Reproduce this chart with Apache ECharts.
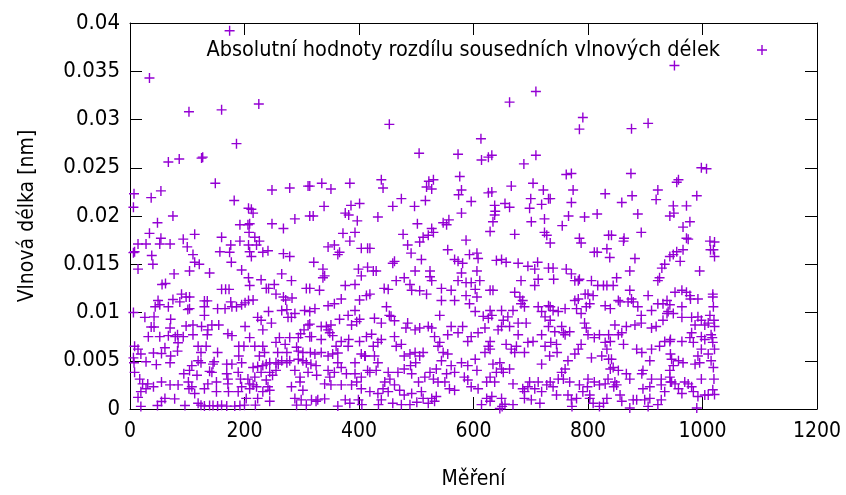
<!DOCTYPE html>
<html>
<head>
<meta charset="utf-8">
<script src="https://cdn.jsdelivr.net/npm/echarts@6/dist/echarts.min.js"></script>
<style>
  html, body { margin: 0; padding: 0; background: #fff; overflow: hidden; }
  #chart { width: 846px; height: 495px; }
</style>
</head>
<body>
<div id="chart"></div>
<script>
// Measurement index (x) and absolute difference of neighbouring wavelengths in nm (y)
const mereni = [
  34,103,67,86,7,37,54,6,75,48,34,54,93,14,28,52,70,100,6,8,38,14,40,77,56,62,104,75,90,98,49,87,52,67,44,101,6,26,42,71,37,42,70,98,83,79,32,52,67,93,84,61,8,14,41,19,55,83,71,6,7,28,46,70,94,8,17,22,31,28,41,55,70,84,102,103,19,14,19,48,61,78,55,96,
  174,160,186,125,127,149,182,207,192,206,208,113,160,192,176,207,157,174,110,113,121,177,195,207,139,160,167,173,104,130,135,176,104,130,153,166,186,195,201,207,130,178,110,125,143,155,136,110,135,171,178,201,119,133,190,199,153,190,124,119,124,108,147,145,169,178,195,139,143,104,117,169,171,189,193,206,151,171,108,113,130,136,195,151,172,189,124,130,139,145,153,160,169,183,192,200,119,203,209,
  225,248,279,311,212,215,209,248,268,288,314,218,221,226,232,241,212,209,268,279,209,229,238,242,252,265,282,215,255,268,272,283,308,223,229,232,242,247,265,274,282,288,276,305,311,304,298,294,209,261,279,314,218,232,235,255,258,271,274,291,294,302,226,238,244,255,259,265,274,279,294,302,308,215,223,232,218,229,244,249,255,288,297,311,209,215,221,238,241,232,244,282,297,302,223,219,244,288,291,299,308,
  314,335,351,384,339,320,376,382,386,401,397,372,393,384,346,357,363,366,404,415,321,337,337,340,399,404,415,376,393,331,314,369,401,413,323,314,346,357,366,381,393,387,396,401,314,334,343,351,346,349,354,317,334,360,363,381,382,369,401,413,410,315,323,334,346,354,363,393,404,411,316,325,346,357,369,326,349,378,393,404,415,340,351,369,387,396,404,317,325,328,340,363,376,384,399,405,
  453,505,439,442,518,522,474,459,497,516,433,502,477,485,491,506,512,521,419,425,430,459,462,498,509,524,465,479,444,451,489,492,506,518,419,448,453,456,462,427,439,485,482,498,506,521,422,425,433,439,427,433,474,465,462,479,489,498,506,512,499,490,419,430,445,451,454,468,479,492,504,515,419,433,442,451,462,471,479,492,509,434,439,459,474,489,501,512,521,
  613,573,614,626,530,527,576,579,574,596,626,557,579,547,553,527,530,587,629,555,567,573,593,606,608,581,524,527,544,561,579,573,587,596,606,611,603,544,567,587,606,541,593,603,617,629,527,532,541,555,561,573,581,596,590,608,620,626,538,547,544,555,579,590,603,620,626,535,524,553,561,567,584,606,530,538,550,558,567,590,596,608,623,527,535,532,614,623,
  663,709,632,688,709,632,666,704,722,731,655,663,700,698,719,637,638,634,637,701,724,672,724,728,640,649,657,678,695,707,712,731,683,707,713,634,672,681,683,686,731,649,669,689,713,719,725,629,632,652,660,643,649,663,678,692,678,695,704,719,731,725,629,629,657,666,675,672,689,719,634,646,649,640,652,663,629,637,669,686,689,695,698,707,713,719,728,632,629,649,655,650,669,689,701,716,646,
  791,785,762,771,774,771,830,734,766,755,794,816,785,788,836,734,811,816,833,739,740,762,771,777,783,785,806,817,827,833,795,800,809,734,739,748,760,777,783,780,788,797,803,830,734,742,754,757,760,768,794,797,800,811,820,836,830,735,745,746,733,783,788,777,806,824,833,836,765,760,754,748,757,734,768,739,800,811,820,791,803,830,835,785,799,745,765,771,780,772,803,809,820,827,833,
  905,876,875,859,877,919,922,887,943,841,863,862,893,838,882,873,850,929,934,922,925,943,844,873,876,853,856,870,879,887,893,905,911,922,931,938,940,839,867,882,893,911,919,931,938,847,853,859,862,839,885,894,911,925,934,944,841,844,853,867,873,896,894,908,839,847,850,845,896,908,928,934,944,911,928,856,859,879,885,899,908,905,922,928,873,
  951,998,1007,958,955,990,972,949,950,966,978,972,975,1013,1021,1014,949,955,966,961,995,952,964,972,978,979,992,1018,943,964,1019,949,964,981,992,998,1004,1010,1013,1021,987,981,978,984,998,1004,1015,1018,943,964,944,946,949,958,966,992,998,1010,1015,995,987,943,943,946,952,958,964,969,975,981,984,998,1004,1010,992,990,
  1019,1021,1018,1020,1017,1021,1019,1020,1018,1021
];
const rozdil = [
  0.0343,0.0308,0.0256,0.0259,0.0223,0.0219,0.0226,0.0209,0.0200,0.0193,0.0182,0.0177,0.0176,0.0171,0.0171,0.0171,0.0171,0.0168,0.0162,0.0163,0.0159,0.0145,0.0150,0.0140,0.0129,0.0130,0.0143,0.01135,0.0119,0.0116,0.01125,0.0111,0.0108,0.0106,0.0106,0.0103,0.0100,0.0095,0.00955,0.0093,0.0085,0.0085,0.0084,0.0086,0.0077,0.0075,0.0075,0.0075,0.0076,0.0075,0.00686,0.00635,0.0065,0.0062,0.0058,0.0057,0.00575,0.0060,0.0055,0.0053,0.0048,0.0049,0.0046,0.0048,0.00365,0.0038,0.0031,0.0026,0.0026,0.0021,0.0023,0.0028,0.0025,0.0025,0.0028,0.0021,0.0018,0.0012,0.00027,0.00037,0.0011,0.00105,0.00078,0.00037,
  0.0392,0.0310,0.0275,0.0260,0.0261,0.0234,0.0216,0.0208,0.0191,0.0191,0.0183,0.0181,0.0178,0.0174,0.0170,0.0170,0.0163,0.01625,0.0160,0.0152,0.0150,0.0152,0.0144,0.0136,0.0141,0.0124,0.0124,0.0124,0.0116,0.0112,0.0112,0.0111,0.0104,0.0106,0.0104,0.0104,0.0106,0.0108,0.0110,0.01125,0.0097,0.0106,0.0087,0.00855,0.0087,0.0087,0.0082,0.0077,0.0077,0.0078,0.0076,0.00855,0.0065,0.0065,0.0065,0.0065,0.00585,0.0055,0.00585,0.0050,0.0048,0.0045,0.0049,0.00465,0.00465,0.00465,0.0048,0.0039,0.0038,0.0040,0.0035,0.00365,0.0031,0.0038,0.0031,0.0031,0.0028,0.0026,0.0023,0.0016,0.0021,0.0026,0.0023,0.0018,0.0018,0.0018,0.0004,0.0003,0.00035,0.00035,0.0003,0.0004,0.0003,0.0003,0.00035,0.0004,0.0006,0.0011,0.0021,
  0.0316,0.0227,0.0229,0.0231,0.0207,0.0203,0.0192,0.0192,0.0187,0.0197,0.0200,0.0178,0.0170,0.0174,0.01625,0.0164,0.0158,0.0163,0.0161,0.0158,0.0128,0.0134,0.0125,0.0125,0.0129,0.0140,0.0133,0.0113,0.0119,0.0116,0.0113,0.0115,0.0125,0.0095,0.0092,0.0082,0.0101,0.0089,0.0102,0.0103,0.0095,0.0099,0.0095,0.0102,0.0087,0.0082,0.0078,0.0074,0.0074,0.0074,0.0074,0.0075,0.0065,0.0065,0.00585,0.0069,0.00585,0.0067,0.00585,0.0064,0.0060,0.00585,0.0055,0.00465,0.0048,0.0048,0.00465,0.0050,0.0048,0.0050,0.00515,0.0050,0.0048,0.0043,0.0044,0.0045,0.0033,0.0038,0.0038,0.0035,0.0040,0.0040,0.0033,0.0038,0.0026,0.0025,0.0023,0.0030,0.0023,0.0018,0.00195,0.0023,0.0028,0.00195,0.0011,0.0004,0.0008,0.0011,0.0004,0.00095,0.0004,
  0.0231,0.0234,0.0228,0.0234,0.0210,0.0200,0.0203,0.0201,0.0211,0.0213,0.0195,0.0182,0.0183,0.0174,0.0168,0.0170,0.0160,0.01625,0.01665,0.01665,0.0152,0.0145,0.0136,0.0138,0.0145,0.0138,0.0147,0.0128,0.0129,0.0123,0.0125,0.0114,0.0113,0.01175,0.0104,0.0101,0.0107,0.0109,0.0093,0.0097,0.0102,0.0087,0.00905,0.0093,0.0088,0.00855,0.00855,0.0087,0.0082,0.0079,0.0076,0.0075,0.0072,0.0065,0.0058,0.0065,0.0072,0.0070,0.0070,0.0075,0.0055,0.00585,0.0057,0.00585,0.0055,0.0057,0.0048,0.0048,0.0057,0.0055,0.00465,0.0045,0.0040,0.0038,0.0043,0.0035,0.0033,0.00365,0.00365,0.0033,0.0040,0.0026,0.0025,0.0025,0.0025,0.0028,0.0021,0.00095,0.0008,0.00095,0.00105,0.0003,0.00095,0.0006,0.00095,0.00045,
  0.0295,0.0265,0.02375,0.0229,0.0230,0.0236,0.0218,0.0210,0.0210,0.0216,0.0199,0.0192,0.0181,0.0170,0.01615,0.0173,0.0178,0.0180,0.01665,0.0143,0.0143,0.0151,0.0153,0.0143,0.0155,0.0143,0.0133,0.0136,0.0125,0.0124,0.0129,0.0123,0.01225,0.0119,0.0119,0.0106,0.0097,0.0096,0.00915,0.0094,0.0089,0.0089,0.0084,0.0082,0.0084,0.00855,0.00775,0.0065,0.0069,0.0072,0.0055,0.0048,0.0067,0.0065,0.0075,0.0055,0.0057,0.00585,0.0055,0.00585,0.0048,0.0045,0.0038,0.0040,0.0028,0.0038,0.0031,0.0038,0.00415,0.00365,0.0028,0.0033,0.0018,0.0016,0.0021,0.0018,0.0025,0.00195,0.00145,0.0016,0.0018,0.00045,0.00095,0.0006,0.00045,0.00045,0.0007,0.0011,0.0006,
  0.0280,0.0264,0.0258,0.0261,0.02375,0.0228,0.0241,0.0227,0.0222,0.0215,0.0224,0.0196,0.0203,0.0193,0.0191,0.0187,0.0183,0.0175,0.0184,0.0165,0.0155,0.0153,0.0160,0.01615,0.0156,0.0151,0.0137,0.0133,0.0125,0.0123,0.0141,0.0133,0.0131,0.0131,0.0143,0.0133,0.0124,0.01125,0.01125,0.01175,0.0116,0.0097,0.0109,0.0101,0.0096,0.0123,0.0084,0.0075,0.0069,0.0077,0.00855,0.0079,0.00855,0.0075,0.0070,0.0079,0.0084,0.0094,0.0065,0.00585,0.0050,0.0057,0.0048,0.0045,0.00515,0.00585,0.0065,0.00415,0.0038,0.00365,0.0045,0.0038,0.0033,0.0040,0.0031,0.0028,0.0028,0.0021,0.00195,0.0030,0.0023,0.0021,0.0028,0.0011,0.0013,0.0008,0.00045,0.0011,
  0.0318,0.0329,0.0263,0.0254,0.0263,0.0225,0.0231,0.0234,0.0227,0.0218,0.0213,0.0209,0.0218,0.0208,0.0212,0.0211,0.0205,0.0194,0.0201,0.0194,0.0197,0.0181,0.0183,0.0180,0.0154,0.0155,0.0152,0.0151,0.0148,0.0145,0.0152,0.0146,0.0133,0.0128,0.01345,0.0123,0.0121,0.0116,0.0109,0.01125,0.0107,0.0102,0.0102,0.0106,0.0106,0.0101,0.00955,0.0102,0.0097,0.0092,0.00955,0.0082,0.00855,0.00855,0.0089,0.0089,0.0077,0.0069,0.0070,0.0077,0.00855,0.0065,0.0070,0.0062,0.0067,0.0062,0.0065,0.00585,0.00585,0.00465,0.00465,0.0048,0.00415,0.0038,0.0038,0.00415,0.0033,0.0028,0.0026,0.0021,0.0018,0.0023,0.0028,0.0021,0.0028,0.0018,0.0025,0.0013,0.0008,0.0011,0.0005,0.00027,0.00045,0.0011,0.00095,0.0006,0.00005,
  0.0302,0.0290,0.0243,0.0244,0.0227,0.0214,0.0223,0.0218,0.0200,0.0190,0.0199,0.0202,0.0177,0.0172,0.0180,0.0172,0.01625,0.01625,0.0166,0.0146,0.01345,0.0145,0.0140,0.0133,0.0133,0.01345,0.0133,0.0128,0.0128,0.0128,0.0119,0.0119,0.01175,0.0106,0.0102,0.0101,0.0104,0.01125,0.0114,0.0104,0.0099,0.0106,0.0109,0.0107,0.0092,0.0080,0.00855,0.0079,0.0077,0.0080,0.0089,0.0084,0.0077,0.0074,0.0077,0.0077,0.0069,0.0069,0.0067,0.00585,0.0055,0.0062,0.0067,0.0057,0.0053,0.0055,0.0062,0.00515,0.0050,0.00415,0.0038,0.0031,0.0031,0.0028,0.0028,0.0023,0.0031,0.0028,0.0025,0.0018,0.00145,0.0026,0.0031,0.0025,0.0023,0.00145,0.00145,0.00095,0.0011,0.00027,0.0011,0.0006,0.00027,0.0006,0.0011,
  0.0296,0.02905,0.0244,0.0214,0.0221,0.0217,0.0227,0.0202,0.0200,0.0180,0.0177,0.0174,0.0183,0.0157,0.0156,0.0143,0.0136,0.0146,0.0150,0.0133,0.0136,0.0158,0.0128,0.0123,0.0114,0.01125,0.0111,0.0111,0.0111,0.0106,0.0097,0.01175,0.0102,0.0109,0.0109,0.01125,0.0101,0.0104,0.00855,0.0087,0.0089,0.0084,0.00855,0.0092,0.0099,0.0087,0.0077,0.0079,0.0067,0.0070,0.0062,0.00585,0.0062,0.0065,0.0070,0.0072,0.00515,0.0043,0.0040,0.00365,0.0031,0.0040,0.00365,0.0050,0.00415,0.0028,0.0025,0.0023,0.0021,0.0023,0.0025,0.0018,0.0028,0.0031,0.0031,0.00145,0.0008,0.00095,0.00095,0.00095,0.0011,0.00027,0.00045,0.00095,0.0001,
  0.0356,0.0250,0.0249,0.02375,0.0235,0.0221,0.02105,0.02105,0.0203,0.01885,0.0194,0.0177,0.0176,0.0174,0.0173,0.0165,0.0160,0.0163,0.0165,0.0153,0.0143,0.0121,0.0123,0.0121,0.01175,0.0114,0.0114,0.0116,0.0108,0.0106,0.0106,0.0099,0.0095,0.0095,0.00955,0.0092,0.0087,0.0089,0.0097,0.00855,0.0087,0.0079,0.0074,0.0069,0.0075,0.0072,0.0077,0.0069,0.0070,0.0070,0.0057,0.00515,0.0045,0.0050,0.0048,0.0055,0.0062,0.0057,0.0050,0.0048,0.00465,0.0040,0.0033,0.0028,0.0026,0.0021,0.0016,0.0028,0.0026,0.0023,0.0018,0.0031,0.00145,0.00145,0.0013,0.0001,
  0.0165,0.0158,0.0119,0.0092,0.0074,0.0062,0.0043,0.0031,0.0020,0.0015
];

const xTickStep = 200;
const yTickStep = 0.005;
const legendLabel = 'Absolutní hodnoty rozdílu sousedních vlnových délek';
const xTitle = 'Měření';
const yTitle = 'Vlnová délka [nm]';

const FONT = "'DejaVu Sans Condensed', 'DejaVu Sans', sans-serif";
const PLUS = 'path://M4.3,0H5.7V4.3H10V5.7H5.7V10H4.3V5.7H0V4.3H4.3Z';
const INK = '#000';
const VIOLET = '#9400d3';

const points = mereni.map((x, i) => [x, rozdil[i]]);

const chart = echarts.init(document.getElementById('chart'), null, { renderer: 'canvas' });

const frameLine = { show: true, onZero: false, lineStyle: { color: INK, width: 1 } };
const innerTick = { show: true, inside: true, length: 12, lineStyle: { color: INK, width: 1 } };

chart.setOption({
  animation: false,
  backgroundColor: '#fff',
  textStyle: { fontFamily: FONT },
  grid: { left: 130, right: 29, top: 23, bottom: 77 },
  legend: {
    data: [legendLabel],
    top: 34,
    right: 74,
    align: 'right',
    itemWidth: 10,
    itemHeight: 10,
    icon: PLUS,
    textStyle: { fontFamily: FONT, fontSize: 21.5, color: INK, padding: [0, 32, 0, 0] }
  },
  xAxis: [
    {
      type: 'value', position: 'bottom', min: 0, max: 1200, interval: xTickStep,
      axisLine: frameLine, axisTick: innerTick, splitLine: { show: false },
      axisLabel: { color: INK, fontSize: 21, fontFamily: FONT, margin: 12, formatter: v => String(v) },
      name: xTitle, nameLocation: 'middle', nameGap: 60,
      nameTextStyle: { color: INK, fontSize: 21, fontFamily: FONT }
    },
    {
      type: 'value', position: 'top', min: 0, max: 1200, interval: xTickStep,
      axisLine: frameLine, axisTick: innerTick, splitLine: { show: false },
      axisLabel: { show: false }
    }
  ],
  yAxis: [
    {
      type: 'value', position: 'left', min: 0, max: 0.04, interval: yTickStep,
      axisLine: frameLine, axisTick: innerTick, splitLine: { show: false },
      axisLabel: { color: INK, fontSize: 22, fontFamily: FONT, margin: 10 },
      name: yTitle, nameLocation: 'middle', nameGap: 92, nameRotate: 90,
      nameTextStyle: { color: INK, fontSize: 21, fontFamily: FONT }
    },
    {
      type: 'value', position: 'right', min: 0, max: 0.04, interval: yTickStep,
      axisLine: frameLine, axisTick: innerTick, splitLine: { show: false },
      axisLabel: { show: false }
    }
  ],
  series: [
    {
      name: legendLabel,
      type: 'scatter',
      xAxisIndex: 0,
      yAxisIndex: 0,
      data: points,
      symbol: PLUS,
      symbolSize: 10,
      itemStyle: { color: VIOLET, opacity: 1 },
      clip: false
    }
  ]
});
</script>
</body>
</html>
